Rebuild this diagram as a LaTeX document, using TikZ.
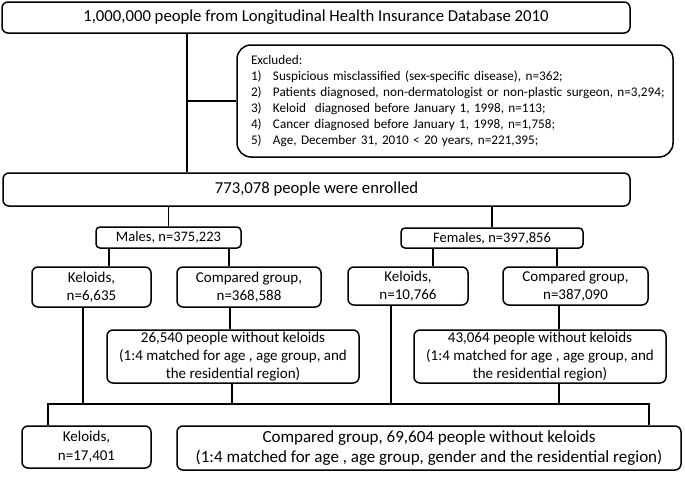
\documentclass[tikz,border=0pt]{standalone}
\usepackage{fontspec}
\setmainfont{Carlito}
\usepackage{array}
\begin{document}
\begin{tikzpicture}[x=1pt,y=-1pt,
  box/.style={draw, line width=1.5pt, rounded corners=6pt, align=center, inner sep=0pt,
    font=\fontsize{15}{18}\selectfont},
  bigtext/.style={font=\fontsize{16.7}{20}\selectfont},
  conn/.style={line width=1.5pt}]
\useasboundingbox (0,0) rectangle (685,479);
% nodes
\node[box, bigtext, minimum width=628pt, minimum height=31pt] (top) at (316,17.5)
  {1,000,000 people from Longitudinal Health Insurance Database 2010};
\node[box, rounded corners=14pt, minimum width=436pt, minimum height=112pt, text width=408pt,
  inner xsep=14pt, align=left, font=\fontsize{13.2}{16}\selectfont] (excl) at (455,101)
  {\begin{tabular}{@{}p{22pt}@{}l@{}}
   \multicolumn{2}{@{}l@{}}{Excluded:}\\
   1) & Suspicious misclassified (sex-specific disease), n=362;\\
   2) & Patients diagnosed, non-dermatologist or non-plastic surgeon, n=3,294;\\
   3) & Keloid\ \ diagnosed before January 1, 1998, n=113;\\
   4) & Cancer diagnosed before January 1, 1998, n=1,758;\\
   5) & Age, December 31, 2010 < 20 years, n=221,395;
  \end{tabular}};
\node[box, bigtext, minimum width=627pt, minimum height=33pt] (enr) at (316.5,189.5)
  {773,078 people were enrolled};
\node[box, minimum width=145pt, minimum height=21pt, rounded corners=4pt,
  font=\fontsize{14.5}{18}\selectfont] (males) at (168.5,237.5)
  {Males, n=375,223};
\node[box, minimum width=182pt, minimum height=20pt, rounded corners=4pt,
  font=\fontsize{14.5}{18}\selectfont] (females) at (492,238)
  {Females, n=397,856};
\node[box, minimum width=119pt, minimum height=40pt] (mk) at (91.5,287)
  {Keloids,\\n=6,635};
\node[box, minimum width=144pt, minimum height=40pt] (mc) at (249,287)
  {Compared group,\\n=368,588};
\node[box, minimum width=120pt, minimum height=38pt] (fk) at (408,286)
  {Keloids,\\n=10,766};
\node[box, minimum width=145pt, minimum height=38pt] (fc) at (575.5,286)
  {Compared group,\\n=387,090};
\node[box, minimum width=252pt, minimum height=53pt] (m26) at (233,356.5)
  {26,540 people without keloids\\(1:4 matched for age , age group, and\\the residential region)};
\node[box, minimum width=252pt, minimum height=53pt] (f43) at (540,356.5)
  {43,064 people without keloids\\(1:4 matched for age , age group, and\\the residential region)};
\node[box, minimum width=129pt, minimum height=42pt, font=\fontsize{15}{19}\selectfont] (fkel) at (86.5,447)
  {Keloids,\\n=17,401};
\node[box, minimum width=504pt, minimum height=44pt, font=\fontsize{17}{20}\selectfont] (fcomp) at (429,448)
  {Compared group, 69,604 people without keloids\\(1:4 matched for age , age group, gender and the residential region)};
% coordinates
\coordinate (tx) at (187,0);
\coordinate (mkx) at (83,0);
\coordinate (mcx) at (230,0);
\coordinate (m26x) at (232,0);
\coordinate (fkx) at (391,0);
\coordinate (fcx) at (559,0);
\coordinate (bl) at (48,404);
\coordinate (br) at (649,404);
% connectors
\draw[conn] (top.south -| tx) -- (enr.north -| tx);
\draw[conn] (tx |- excl.west) -- (excl.west);
\draw[conn] (enr.south -| males.north) -- (males.north);
\draw[conn] (enr.south -| females.north) -- (females.north);
\draw[conn] (males.south -| 109,0) -- (mk.north -| 109,0);
\draw[conn] (males.south -| 229,0) -- (mc.north -| 229,0);
\draw[conn] (females.south -| 433,0) -- (fk.north -| 433,0);
\draw[conn] (females.south -| 557,0) -- (fc.north -| 557,0);
\draw[conn] (mc.south -| mcx) -- (m26.north -| mcx);
\draw[conn] (fc.south -| fcx) -- (f43.north -| fcx);
\draw[conn] (mk.south -| mkx) -- (mkx |- bl);
\draw[conn] (fk.south -| fkx) -- (fkx |- bl);
\draw[conn] (m26.south -| m26x) -- (m26x |- bl);
\draw[conn] (f43.south -| fcx) -- (fcx |- bl);
\draw[conn] (fkel.north -| bl) -- (bl) -- (br) -- (fcomp.north -| br);
\end{tikzpicture}
\end{document}
